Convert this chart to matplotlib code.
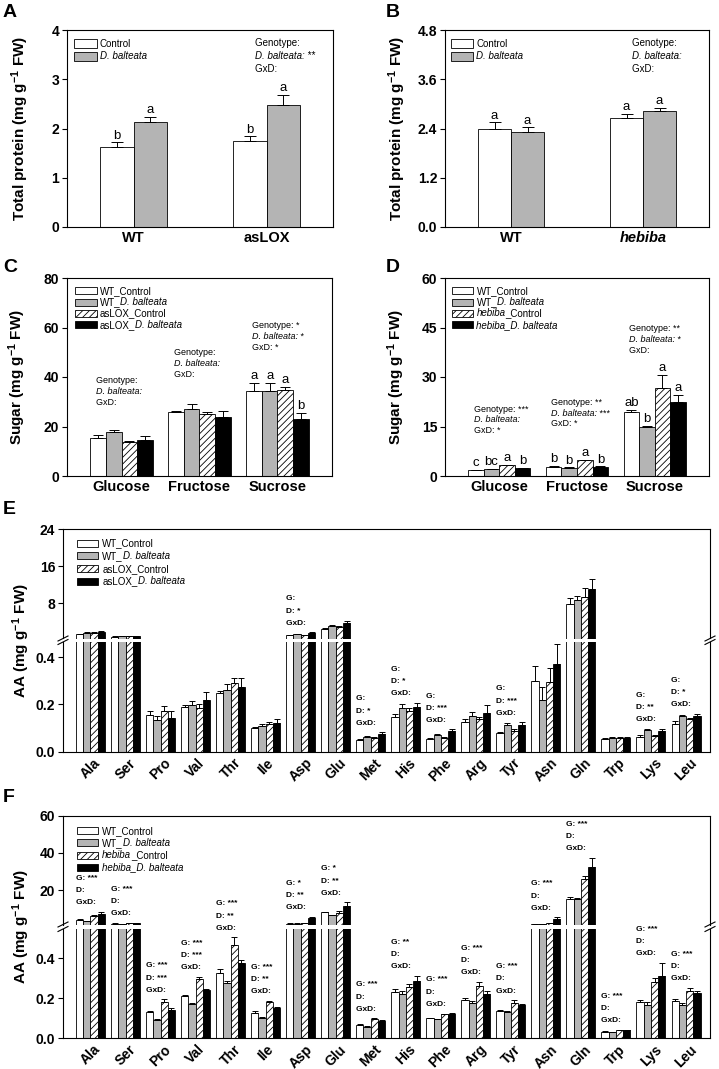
import numpy as np
import matplotlib
matplotlib.use("Agg")
import matplotlib.pyplot as plt
from matplotlib.lines import Line2D
from matplotlib.patches import Rectangle

plt.rcParams['font.family'] = ['Liberation Sans', 'DejaVu Sans']
plt.rcParams['mathtext.fontset'] = 'custom'
plt.rcParams['mathtext.rm'] = 'Liberation Sans'
plt.rcParams['mathtext.it'] = 'Liberation Sans:italic'
plt.rcParams['mathtext.bf'] = 'Liberation Sans:bold'
plt.rcParams['hatch.linewidth'] = 0.6
plt.rcParams['axes.linewidth'] = 0.8

# ---------------- data ----------------
# A: total protein, WT vs asLOX
prot_a_groups = ['WT', 'asLOX']
prot_a_ctrl = [1.63, 1.74]
prot_a_ctrl_err = [0.09, 0.10]
prot_a_db = [2.14, 2.47]
prot_a_db_err = [0.10, 0.22]
prot_a_letters = [['b', 'b'], ['a', 'a']]
prot_a_sig = ['', '**', '']

# B: total protein, WT vs hebiba
prot_b_groups = ['WT', 'hebiba']
prot_b_ctrl = [2.40, 2.65]
prot_b_ctrl_err = [0.15, 0.11]
prot_b_db = [2.31, 2.83]
prot_b_db_err = [0.12, 0.08]
prot_b_letters = [['a', 'a'], ['a', 'a']]
prot_b_sig = ['', '', '']

# C / D: sugars
sugars = ['Glucose', 'Fructose', 'Sucrose']
sug_c = [[15.2, 25.7, 34.5], [17.7, 27.0, 34.5], [13.9, 24.9, 34.6], [14.6, 23.9, 22.9]]
sug_c_err = [[1.4, 0.7, 3.2], [0.9, 2.1, 3.1], [0.4, 0.8, 1.5], [1.6, 2.5, 2.7]]
sug_c_letters = [['', '', 'a'], ['', '', 'a'], ['', '', 'a'], ['', '', 'b']]
sug_c_sig = [('', '', ''), ('', '', ''), ('*', '*', '*')]

sug_d = [[1.8, 2.8, 19.3], [2.0, 2.5, 15.0], [3.2, 4.7, 26.8], [2.3, 2.8, 22.5]]
sug_d_err = [[0.15, 0.3, 0.7], [0.1, 0.15, 0.2], [0.15, 0.2, 3.8], [0.1, 0.15, 2.1]]
sug_d_letters = [['c', 'b', 'ab'], ['bc', 'b', 'b'], ['a', 'a', 'a'], ['b', 'b', 'a']]
sug_d_sig = [('***', '', '*'), ('**', '***', '*'), ('**', '*', '')]

# E / F: amino acids
amino = ['Ala', 'Ser', 'Pro', 'Val', 'Thr', 'Ile', 'Asp', 'Glu', 'Met',
         'His', 'Phe', 'Arg', 'Tyr', 'Asn', 'Gln', 'Trp', 'Lys', 'Leu']

aa_e = [
    [1.3, 0.8, 0.155, 0.188, 0.247, 0.102, 1.2, 2.5, 0.049, 0.148, 0.052, 0.127, 0.079, 0.299, 7.8, 0.053, 0.063, 0.116],
    [1.65, 0.95, 0.134, 0.197, 0.262, 0.109, 1.3, 3.2, 0.063, 0.183, 0.071, 0.152, 0.113, 0.219, 8.8, 0.058, 0.093, 0.150],
    [1.6, 0.95, 0.174, 0.186, 0.289, 0.117, 1.2, 2.9, 0.059, 0.172, 0.059, 0.140, 0.088, 0.296, 9.3, 0.058, 0.065, 0.140],
    [1.7, 0.95, 0.142, 0.219, 0.275, 0.123, 1.6, 3.7, 0.073, 0.188, 0.087, 0.162, 0.111, 0.372, 11.1, 0.058, 0.087, 0.150],
]
aa_e_err = [
    [0.1, 0.05, 0.016, 0.010, 0.011, 0.003, 0.05, 0.15, 0.004, 0.010, 0.005, 0.010, 0.005, 0.063, 1.4, 0.003, 0.007, 0.014],
    [0.1, 0.05, 0.016, 0.017, 0.023, 0.008, 0.05, 0.2, 0.003, 0.017, 0.004, 0.017, 0.007, 0.053, 0.8, 0.003, 0.004, 0.004],
    [0.1, 0.05, 0.018, 0.016, 0.021, 0.009, 0.05, 0.2, 0.003, 0.011, 0.003, 0.006, 0.006, 0.059, 2.1, 0.003, 0.004, 0.004],
    [0.3, 0.05, 0.029, 0.032, 0.035, 0.015, 0.1, 0.5, 0.009, 0.018, 0.007, 0.035, 0.013, 0.084, 2.2, 0.003, 0.011, 0.011],
]
aa_e_sig = [None, None, None, None, None, None, ('', '*', ''), None, ('', '*', ''),
            ('', '*', ''), ('', '***', ''), None, ('', '***', ''), None, None, None,
            ('', '**', ''), ('', '*', '')]

aa_f = [
    [3.9, 1.9, 0.133, 0.212, 0.328, 0.125, 1.9, 8.0, 0.067, 0.233, 0.100, 0.190, 0.138, 1.7, 15.3, 0.034, 0.180, 0.185],
    [3.3, 1.7, 0.092, 0.173, 0.278, 0.103, 1.9, 6.5, 0.058, 0.220, 0.095, 0.175, 0.133, 1.7, 15.0, 0.032, 0.168, 0.166],
    [6.2, 2.2, 0.182, 0.295, 0.467, 0.180, 2.2, 7.8, 0.097, 0.255, 0.120, 0.262, 0.178, 2.1, 25.7, 0.040, 0.280, 0.239],
    [7.1, 2.1, 0.142, 0.240, 0.378, 0.153, 4.8, 11.4, 0.087, 0.287, 0.120, 0.223, 0.167, 4.4, 32.4, 0.040, 0.314, 0.227],
]
aa_f_err = [
    [0.3, 0.1, 0.005, 0.005, 0.019, 0.012, 0.1, 0.4, 0.003, 0.012, 0.003, 0.013, 0.003, 0.1, 0.9, 0.002, 0.013, 0.012],
    [0.2, 0.1, 0.004, 0.005, 0.010, 0.004, 0.1, 0.3, 0.003, 0.017, 0.003, 0.013, 0.003, 0.1, 0.9, 0.002, 0.012, 0.013],
    [0.4, 0.1, 0.013, 0.013, 0.038, 0.008, 0.1, 0.9, 0.003, 0.017, 0.003, 0.020, 0.013, 0.1, 2.0, 0.002, 0.022, 0.013],
    [1.1, 0.1, 0.008, 0.005, 0.014, 0.005, 0.8, 2.0, 0.003, 0.025, 0.005, 0.014, 0.005, 0.9, 5.0, 0.002, 0.064, 0.008],
]
aa_f_sig = [('***', '', ''), ('***', '', ''), ('***', '***', ''), ('***', '***', ''),
            ('***', '**', ''), ('***', '**', ''), ('*', '**', ''), ('*', '**', ''),
            ('***', '', ''), ('**', '', ''), ('***', '', ''), ('***', '', ''),
            ('***', '', ''), ('***', '', ''), ('***', '', ''), ('***', '', ''),
            ('***', '', ''), ('***', '', '')]

# ---------------- styles ----------------
FACES = ['white', '#b4b4b4', 'white', 'black']
HATCHES = [None, None, '/////', None]
N, I = 'normal', 'italic'
DB = 'D. balteata'
# legend labels as (text, style) pieces
labels_prot = [[('Control', N)], [(DB, I)]]
labels_lox = [[('WT_Control', N)], [('WT_', N), (DB, I)],
              [('asLOX_Control', N)], [('asLOX_', N), (DB, I)]]
labels_heb = [[('WT_Control', N)], [('WT_', N), (DB, I)],
              [('hebiba', I), ('_Control', N)], [('hebiba_' + DB, I)]]

W, H = 719, 1069
fig = plt.figure(figsize=(W / 100, H / 100), dpi=100)


def px_axes(x0, y0, x1, y1):
    return fig.add_axes([x0 / W, 1 - y1 / H, (x1 - x0) / W, (y1 - y0) / H])


def draw_bars(ax, series, errs, width, capsize, letters=None, floor=None):
    n = len(series)
    x = np.arange(len(series[0]))
    for k in range(n):
        pos = x + (k - (n - 1) / 2) * width
        vals = np.array(series[k], dtype=float)
        if floor is not None:
            # upper part of a broken axis: skip bars that never reach it
            vals = np.where(vals > floor, vals, np.nan)
        ax.bar(pos, vals, width, facecolor=FACES[k], edgecolor='black', hatch=HATCHES[k],
               linewidth=0.6, zorder=2)
        ax.errorbar(pos, vals, yerr=[np.zeros(len(pos)), errs[k]], fmt='none',
                    ecolor='black', elinewidth=0.7, capsize=capsize, capthick=0.7, zorder=3)
        if letters:
            for i, lt in enumerate(letters[k]):
                if lt:
                    ax.annotate(lt, xy=(pos[i], series[k][i] + errs[k][i]), xytext=(0, 0.5),
                                textcoords='offset points', ha='center', va='bottom', fontsize=9.5)
    return x


def rich_text(ax, xy, coords, parts, size, offset=(0, 0), weight='normal'):
    """Text made of pieces in different styles, laid side by side."""
    prev = ax.annotate(parts[0][0], xy=xy, xycoords=coords, xytext=offset,
                       textcoords='offset points', ha='left', va='center', fontsize=size,
                       fontstyle=parts[0][1], fontweight=weight, annotation_clip=False)
    for txt, st in parts[1:]:
        prev = ax.annotate(txt, xy=(1, 0), xycoords=prev, ha='left', va='bottom',
                           fontsize=size, fontstyle=st, fontweight=weight, annotation_clip=False)


def stack_lines(ax, xy, lines, coords, size, dy, weight='normal', top=True, gap=0.0):
    n = len(lines)
    for k, line in enumerate(lines):
        off = -k * dy if top else gap + (n - 1 - k) * dy
        parts = line if isinstance(line, list) else [(line, N)]
        rich_text(ax, xy, coords, parts, size, offset=(0, off), weight=weight)


def stat_lines(sig):
    second = [(DB + ':', I)] + ([(' ' + sig[1], N)] if sig[1] else [])
    return [[('Genotype: ' + sig[0], N)], second, [('GxD: ' + sig[2], N)]]


def manual_legend(ax, labels, box_dx, text_dx, first_dy, pitch, bw, bh, size=7):
    """Legend rows measured in pixels from the top-left corner of the axes."""
    pos = ax.get_position()
    x0, top = pos.x0 * W, pos.y1 * H
    for r, parts in enumerate(labels):
        cy = top - first_dy - r * pitch
        fig.add_artist(Rectangle(((x0 + box_dx) / W, (cy - bh / 2) / H), bw / W, bh / H,
                                 transform=fig.transFigure, facecolor=FACES[r],
                                 hatch=HATCHES[r], edgecolor='black', linewidth=0.6))
        rich_text(ax, (x0 + text_dx, cy), 'figure pixels', parts, size)


def style_y(ax, ticks, fmt):
    ax.set_yticks(ticks, [fmt.format(t) for t in ticks], fontweight='bold', fontsize=10)
    ax.tick_params(axis='y', direction='out', length=3.5, width=0.8, pad=2)


def ylab(text, xpx, ypx):
    fig.text(xpx / W, 1 - ypx / H, text, rotation=90, ha='center', va='center',
             fontsize=11, fontweight='bold')


def panel(letter, xpx, ypx):
    fig.text(xpx / W, 1 - ypx / H, letter, ha='left', va='top', fontsize=14, fontweight='bold')


# ---------------- A / B ----------------
for box, grp, ctrl, cerr, db, derr, lets, sig, ylim, ticks, fmt, lx, bdx, tdx in [
        ((67, 30, 333, 227), prot_a_groups, prot_a_ctrl, prot_a_ctrl_err, prot_a_db, prot_a_db_err,
         prot_a_letters, prot_a_sig, 4, [0, 1, 2, 3, 4], '{:.0f}', 20, 7, 33),
        ((445, 30, 709, 227), prot_b_groups, prot_b_ctrl, prot_b_ctrl_err, prot_b_db, prot_b_db_err,
         prot_b_letters, prot_b_sig, 4.8, [0, 1.2, 2.4, 3.6, 4.8], '{:.1f}', 397, 5.7, 31.5)]:
    ax = px_axes(*box)
    x = draw_bars(ax, [ctrl, db], [cerr, derr], 0.25, 4, letters=lets)
    ax.set_xlim(-0.5, 1.5)
    ax.set_ylim(0, ylim)
    style_y(ax, ticks, fmt)
    ax.set_xticks(x, grp, fontweight='bold', fontsize=10.5)
    ax.tick_params(axis='x', direction='in', length=3, width=0.8, pad=3)
    if grp[1] == 'hebiba':
        ax.get_xticklabels()[1].set_fontstyle('italic')
    manual_legend(ax, labels_prot, bdx, tdx, 13.7, 12.5, 22.7, 9)
    stack_lines(ax, (0.707, 0.934), stat_lines(sig), 'axes fraction', 7, 9.2)
    ylab(r'Total protein (mg g$^{\mathbf{-1}}$ FW)', lx, 128.5)

panel('A', 3, 4)
panel('B', 386, 4)

# ---------------- C / D ----------------
C_STAT_Y = [29.8, 41.1, 52.0]
D_STAT_Y = [13.7, 15.8, 38.0]
for box, data, err, lets, sig, labs, ylim, ticks, stat_y, lx, bdx, tdx in [
        ((67, 278, 332, 476), sug_c, sug_c_err, sug_c_letters, sug_c_sig, labels_lox, 80,
         [0, 20, 40, 60, 80], C_STAT_Y, 17, 8, 32.8),
        ((445, 278, 709, 476), sug_d, sug_d_err, sug_d_letters, sug_d_sig, labels_heb, 60,
         [0, 15, 30, 45, 60], D_STAT_Y, 396, 6.7, 31.5)]:
    ax = px_axes(*box)
    x = draw_bars(ax, data, err, 0.2, 3.5, letters=lets)
    ax.set_xlim(-0.7, 2.7)
    ax.set_ylim(0, ylim)
    style_y(ax, ticks, '{:.0f}')
    ax.set_xticks(x, sugars, fontweight='bold', fontsize=10.5)
    ax.tick_params(axis='x', direction='in', length=3, width=0.8, pad=3)
    manual_legend(ax, labs, bdx, tdx, 12.7, 11.4, 21.7, 7)
    for i, s in enumerate(sig):
        stack_lines(ax, (x[i] - 0.33, stat_y[i]), stat_lines(s), 'data', 6.5, 7.8, top=False)
    ylab(r'Sugar (mg g$^{\mathbf{-1}}$ FW)', lx, 377)

panel('C', 3, 259)
panel('D', 386, 259)


# ---------------- E / F (broken axes) ----------------
def break_marks(ax_up, ax_low):
    b_up = ax_up.get_position()
    b_low = ax_low.get_position()
    dx, dy = 5 / W, 2.5 / H
    for xf in (b_up.x0, b_up.x1):
        for yf in (b_up.y0, b_low.y1):
            fig.add_artist(Line2D([xf - dx, xf + dx], [yf - dy, yf + dy],
                                  transform=fig.transFigure, color='black', lw=0.8))


def aa_panel(box_up, box_low, data, err, sig, labs, ylim_up, ylim_low, ticks_up, lx, ly,
             first_dy, pitch):
    ax_up = px_axes(*box_up)
    ax_low = px_axes(*box_low)
    x = draw_bars(ax_low, data, err, 0.207, 2.5)
    draw_bars(ax_up, data, err, 0.207, 2.5, floor=ylim_up[0])
    for ax in (ax_up, ax_low):
        ax.set_xlim(-0.785, 17.685)
    ax_up.set_ylim(*ylim_up)
    ax_low.set_ylim(*ylim_low)
    ax_up.spines['bottom'].set_visible(False)
    ax_low.spines['top'].set_visible(False)
    ax_up.set_xticks([])
    style_y(ax_up, ticks_up, '{:.0f}')
    style_y(ax_low, [0, 0.2, 0.4], '{:.1f}')
    ax_low.set_xticks(x, amino, rotation=45, fontweight='bold', fontsize=10)
    ax_low.tick_params(axis='x', length=0, pad=3)
    manual_legend(ax_up, labs, 13.7, 39.3, first_dy, pitch, 21.6, 7)
    tops = np.max(np.array(data) + np.array(err), axis=0)
    for i, s in enumerate(sig):
        if s is None:
            continue
        ax = ax_up if tops[i] > ylim_low[1] else ax_low
        stack_lines(ax, (x[i] - 0.415, tops[i]), ['G: ' + s[0], 'D: ' + s[1], 'GxD: ' + s[2]],
                    'data', 6, 8.8, weight='bold', top=False, gap=6.5)
    break_marks(ax_up, ax_low)
    ylab(r'AA (mg g$^{\mathbf{-1}}$ FW)', lx, ly)


aa_panel((63, 529.3, 710, 638.5), (63, 642, 710, 751.7), aa_e, aa_e_err, aa_e_sig, labels_lox,
         (0.39, 24), (0, 0.464), [8, 16, 24], 21, 640.5, 14, 12.7)
aa_panel((63, 815.7, 710, 924.5), (63, 929, 710, 1038.3), aa_f, aa_f_err, aa_f_sig, labels_heb,
         (1.45, 60), (0, 0.547), [20, 40, 60], 21, 927, 15, 12.2)

panel('E', 3, 501)
panel('F', 3, 789)

fig.savefig('out.png', dpi=100)
